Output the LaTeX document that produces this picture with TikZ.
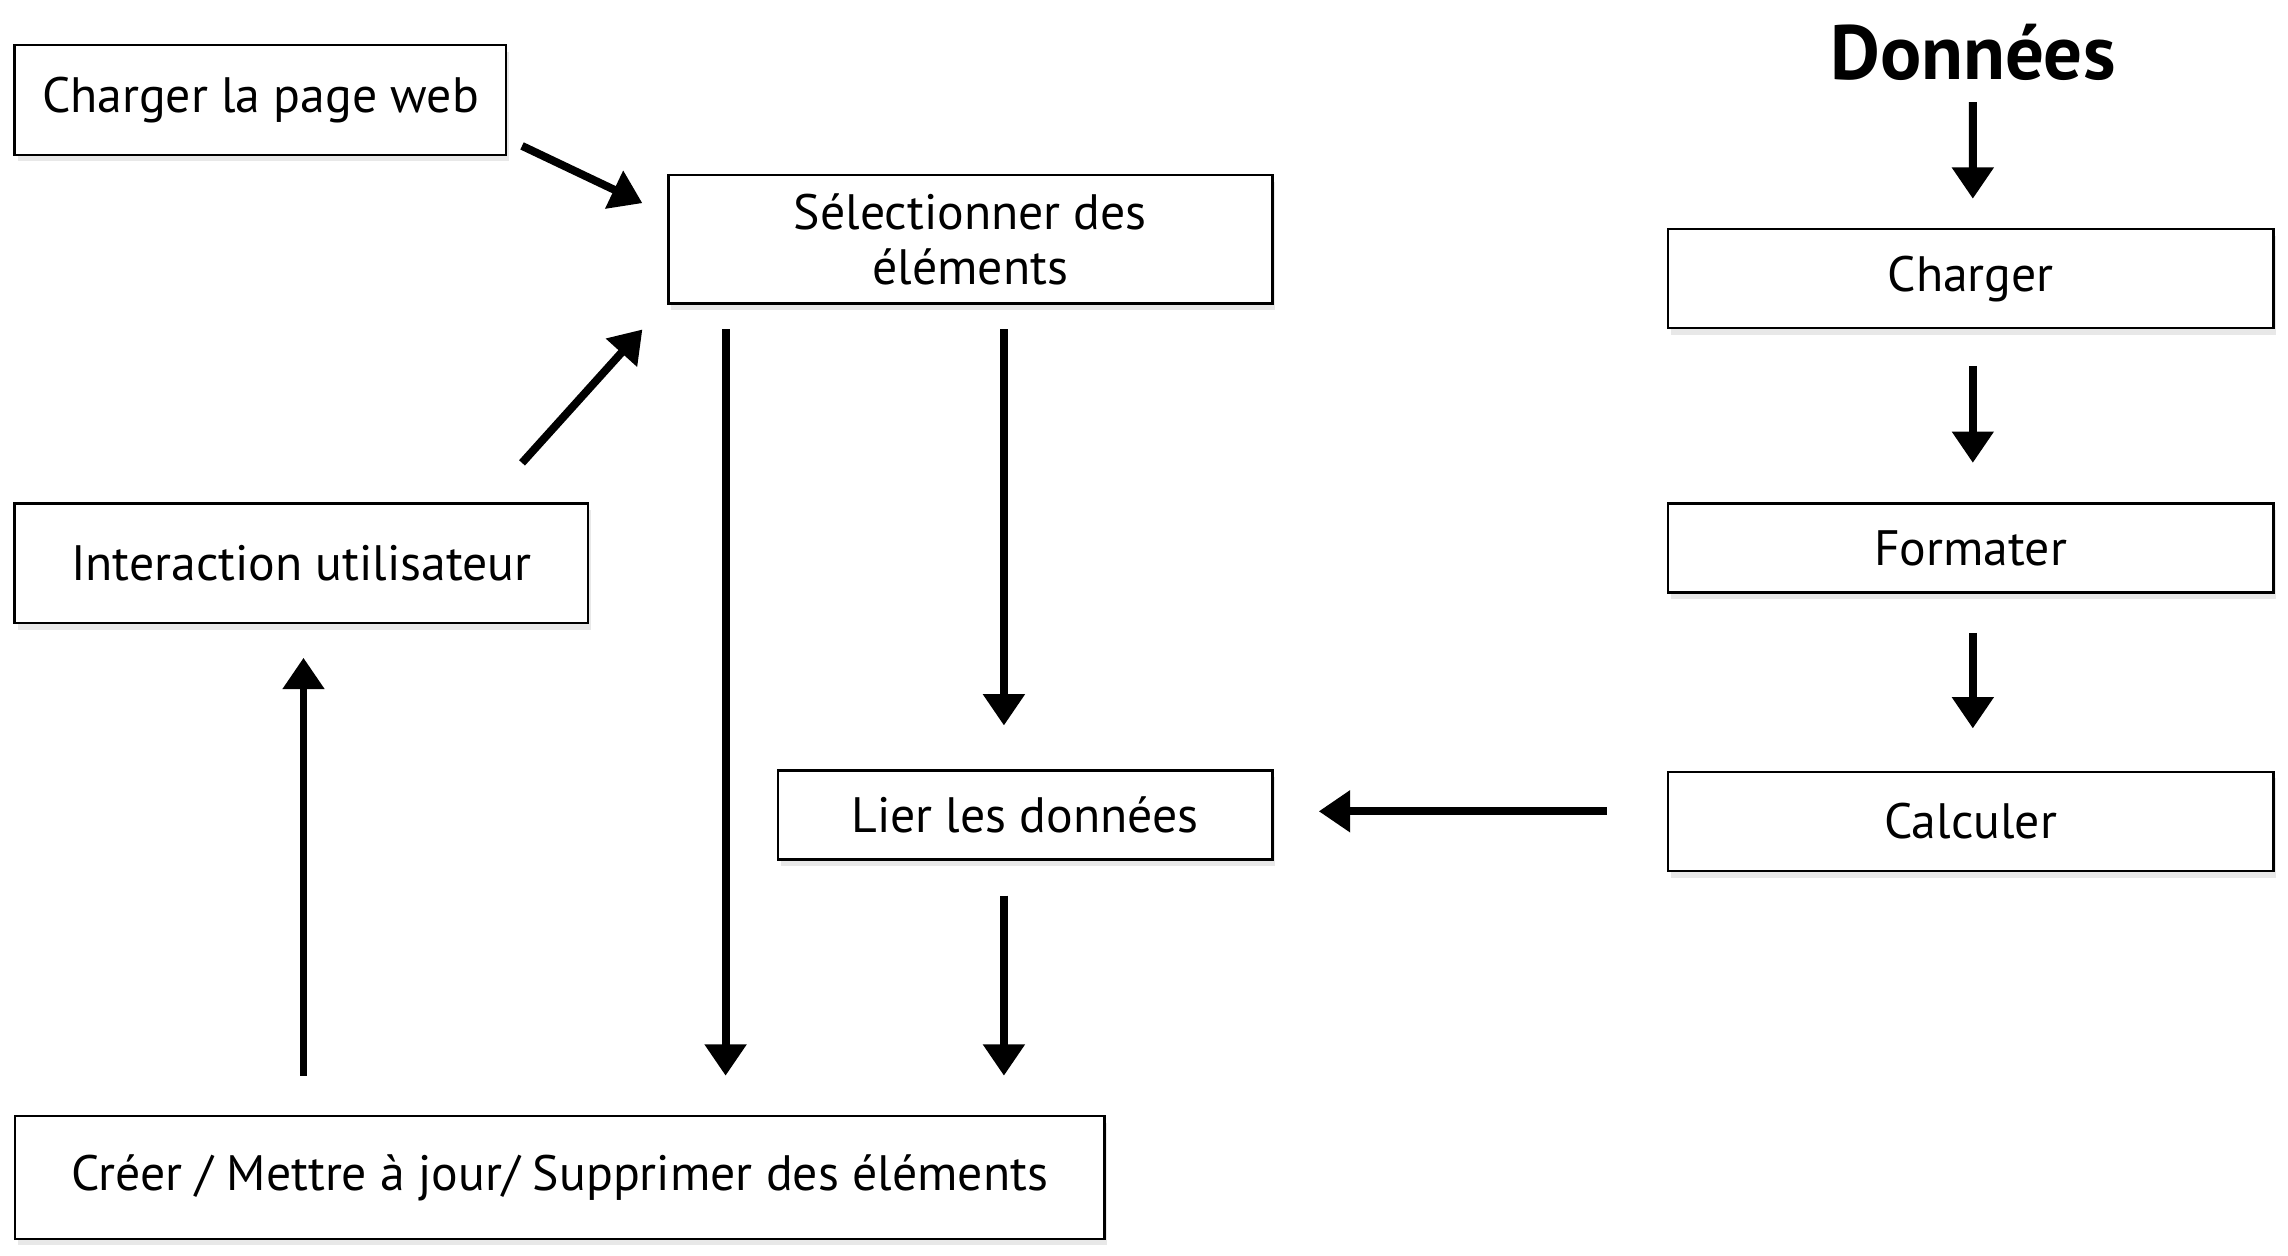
\documentclass[tikz,border=0pt]{standalone}
\usepackage{fontspec}
\setmainfont{PT Sans}
\usepackage{tikz}
\usetikzlibrary{arrows.meta,shadows,calc}

\tikzset{
    etape/.style={draw=black, line width=0.9pt, fill=white, align=center,
        inner sep=0pt, font=\fontsize{19.4}{21.6}\selectfont,
        drop shadow={opacity=0.18, shadow xshift=0.4mm, shadow yshift=-0.9mm}},
    fleche/.style={line width=3.1pt, -{Triangle[length=0.43cm,width=0.55cm]}},
    titre/.style={font=\fontsize{30}{36}\selectfont\bfseries}
}

\begin{document}
\begin{tikzpicture}[x=0.02cm, y=-0.02cm]
    \useasboundingbox (0,0) rectangle (1568,860.7);

    % partie page web
    \node[etape, minimum width=6.74cm, minimum height=1.5cm] (web) at (178.5,68.5) {Charger la page web};
    \node[etape, minimum width=8.28cm, minimum height=1.76cm] (sel) at (665,164) {Sélectionner des\\éléments};
    \node[etape, minimum width=7.86cm, minimum height=1.64cm] (inter) at (206.5,386) {Interaction utilisateur};
    \node[etape, minimum width=6.78cm, minimum height=1.22cm] (lier) at (702.5,558.5) {Lier les données};
    \node[etape, minimum width=14.94cm, minimum height=1.68cm] (creer) at (383.5,807) {Créer / Mettre à jour/ Supprimer des éléments};

    % partie données
    \node[titre] (donnees) at (1352,36) {Données};
    \node[etape, minimum width=8.3cm, minimum height=1.36cm] (charger) at (1350.5,191) {Charger};
    \node[etape, minimum width=8.3cm, minimum height=1.22cm] (formater) at (1350.5,375.5) {Formater};
    \node[etape, minimum width=8.3cm, minimum height=1.36cm] (calculer) at (1350.5,563) {Calculer};

    \draw[fleche] ($(web.east)+(10,31.5)$) -- ($(sel.north west)+(-17,20)$);
    \draw[fleche] ($(inter.north east)+(-46,-27)$) -- ($(sel.south west)+(-17,17)$);
    \draw[fleche] ($(sel.south west)+(40,17)$) -- ($(sel.south west |- creer.north)+(40,-27)$);
    \draw[fleche] ($(sel.south)+(23,17)$) -- ($(lier.north)+(-14.5,-30)$);
    \draw[fleche] ($(lier.south)+(-14.5,24)$) -- ($(lier.south |- creer.north)+(-14.5,-27)$);
    \draw[fleche] ($(inter.south |- creer.north)+(1.5,-27)$) -- ($(inter.south)+(1.5,23)$);
    \draw[fleche] ($(calculer.west)+(-41,-7)$) -- ($(lier.east)+(31,-2.5)$);

    \draw[fleche] ($(donnees.center)+(0,34)$) -- ($(charger.north)+(1.5,-20)$);
    \draw[fleche] ($(charger.south)+(1.5,25)$) -- ($(formater.north)+(1.5,-27)$);
    \draw[fleche] ($(formater.south)+(1.5,27)$) -- ($(calculer.north)+(1.5,-29)$);
\end{tikzpicture}
\end{document}
